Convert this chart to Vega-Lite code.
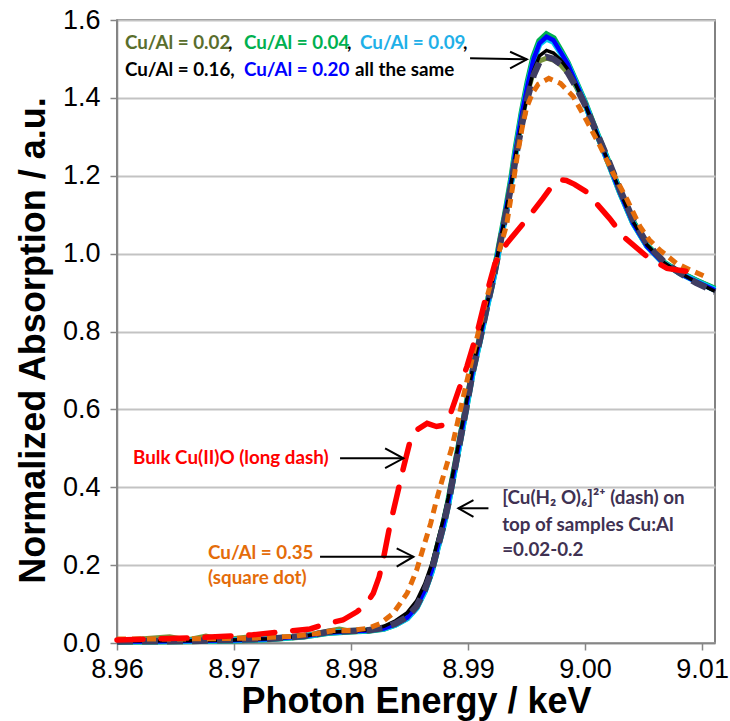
{
  "$schema": "https://vega.github.io/schema/vega-lite/v6.json",
  "width": 598,
  "height": 623,
  "autosize": {"type": "none"},
  "padding": {"left": 117, "top": 20, "right": 15, "bottom": 78},
  "background": "white",
  "config": {
    "view": {"stroke": "#595959", "strokeWidth": 1.5},
    "axis": {
      "domainColor": "#868686", "domainWidth": 1.5,
      "tickColor": "#868686", "tickSize": 7, "tickWidth": 1.5,
      "labelFont": "Liberation Sans", "labelFontSize": 27, "labelColor": "#000",
      "titleFont": "Liberation Sans", "titleFontSize": 36, "titleFontWeight": "bold", "titleColor": "#000"
    }
  },
  "datasets": {
    "curves": [
      {"s":"olive","x":8.960,"y":0.006},{"s":"olive","x":8.9645,"y":0.016},{"s":"olive","x":8.966,"y":0.008},{"s":"olive","x":8.9676,"y":0.018},{"s":"olive","x":8.969,"y":0.008},{"s":"olive","x":8.9725,"y":0.020},{"s":"olive","x":8.974,"y":0.012},{"s":"olive","x":8.976,"y":0.018},{"s":"olive","x":8.978,"y":0.030},{"s":"olive","x":8.979,"y":0.036},{"s":"olive","x":8.980,"y":0.030},{"s":"olive","x":8.9815,"y":0.033},{"s":"olive","x":8.9828,"y":0.040},{"s":"olive","x":8.9838,"y":0.052},{"s":"olive","x":8.9848,"y":0.070},{"s":"olive","x":8.9856,"y":0.098},{"s":"olive","x":8.9863,"y":0.140},{"s":"olive","x":8.9869,"y":0.190},{"s":"olive","x":8.9874,"y":0.250},{"s":"olive","x":8.9879,"y":0.308},{"s":"olive","x":8.9883,"y":0.362},{"s":"olive","x":8.9888,"y":0.442},{"s":"olive","x":8.9893,"y":0.522},{"s":"olive","x":8.9898,"y":0.602},{"s":"olive","x":8.9904,"y":0.700},{"s":"olive","x":8.9910,"y":0.780},{"s":"olive","x":8.9916,"y":0.865},{"s":"olive","x":8.9922,"y":0.945},{"s":"olive","x":8.9927,"y":1.025},{"s":"olive","x":8.9932,"y":1.105},{"s":"olive","x":8.9937,"y":1.185},{"s":"olive","x":8.9941,"y":1.262},{"s":"olive","x":8.9946,"y":1.345},{"s":"olive","x":8.9951,"y":1.415},{"s":"olive","x":8.9956,"y":1.468},{"s":"olive","x":8.9961,"y":1.495},{"s":"olive","x":8.9967,"y":1.502},{"s":"olive","x":8.9973,"y":1.497},{"s":"olive","x":8.9979,"y":1.485},{"s":"olive","x":8.9985,"y":1.465},{"s":"olive","x":8.9992,"y":1.430},{"s":"olive","x":9.0000,"y":1.382},{"s":"olive","x":9.0007,"y":1.330},{"s":"olive","x":9.0019,"y":1.245},{"s":"olive","x":9.0030,"y":1.162},{"s":"olive","x":9.0041,"y":1.085},{"s":"olive","x":9.0053,"y":1.022},{"s":"olive","x":9.0067,"y":0.978},{"s":"olive","x":9.0081,"y":0.952},{"s":"olive","x":9.0095,"y":0.932},{"s":"olive","x":9.0111,"y":0.910},

      {"s":"green","x":8.960,"y":0.004},{"s":"green","x":8.966,"y":0.005},{"s":"green","x":8.970,"y":0.007},{"s":"green","x":8.973,"y":0.010},{"s":"green","x":8.976,"y":0.017},{"s":"green","x":8.978,"y":0.026},{"s":"green","x":8.980,"y":0.030},{"s":"green","x":8.9815,"y":0.032},{"s":"green","x":8.9828,"y":0.037},{"s":"green","x":8.9838,"y":0.048},{"s":"green","x":8.9848,"y":0.065},{"s":"green","x":8.9856,"y":0.093},{"s":"green","x":8.9863,"y":0.136},{"s":"green","x":8.9869,"y":0.187},{"s":"green","x":8.9874,"y":0.247},{"s":"green","x":8.9879,"y":0.305},{"s":"green","x":8.9883,"y":0.360},{"s":"green","x":8.9888,"y":0.440},{"s":"green","x":8.9893,"y":0.520},{"s":"green","x":8.9898,"y":0.600},{"s":"green","x":8.9904,"y":0.700},{"s":"green","x":8.9910,"y":0.780},{"s":"green","x":8.9916,"y":0.865},{"s":"green","x":8.9922,"y":0.945},{"s":"green","x":8.9927,"y":1.025},{"s":"green","x":8.9932,"y":1.105},{"s":"green","x":8.9937,"y":1.192},{"s":"green","x":8.9941,"y":1.273},{"s":"green","x":8.9946,"y":1.363},{"s":"green","x":8.9951,"y":1.440},{"s":"green","x":8.9956,"y":1.505},{"s":"green","x":8.9961,"y":1.546},{"s":"green","x":8.9967,"y":1.563},{"s":"green","x":8.9973,"y":1.553},{"s":"green","x":8.9979,"y":1.522},{"s":"green","x":8.9985,"y":1.490},{"s":"green","x":8.9992,"y":1.442},{"s":"green","x":9.0000,"y":1.387},{"s":"green","x":9.0007,"y":1.332},{"s":"green","x":9.0019,"y":1.242},{"s":"green","x":9.0030,"y":1.157},{"s":"green","x":9.0041,"y":1.080},{"s":"green","x":9.0053,"y":1.020},{"s":"green","x":9.0067,"y":0.977},{"s":"green","x":9.0081,"y":0.951},{"s":"green","x":9.0095,"y":0.930},{"s":"green","x":9.0111,"y":0.909},

      {"s":"cyan","x":8.960,"y":0.004},{"s":"cyan","x":8.966,"y":0.005},{"s":"cyan","x":8.970,"y":0.007},{"s":"cyan","x":8.973,"y":0.010},{"s":"cyan","x":8.976,"y":0.017},{"s":"cyan","x":8.978,"y":0.026},{"s":"cyan","x":8.980,"y":0.030},{"s":"cyan","x":8.9815,"y":0.032},{"s":"cyan","x":8.9828,"y":0.037},{"s":"cyan","x":8.9838,"y":0.047},{"s":"cyan","x":8.9848,"y":0.063},{"s":"cyan","x":8.9856,"y":0.090},{"s":"cyan","x":8.9863,"y":0.132},{"s":"cyan","x":8.9869,"y":0.183},{"s":"cyan","x":8.9874,"y":0.243},{"s":"cyan","x":8.9879,"y":0.300},{"s":"cyan","x":8.9883,"y":0.355},{"s":"cyan","x":8.9888,"y":0.435},{"s":"cyan","x":8.9893,"y":0.515},{"s":"cyan","x":8.9898,"y":0.595},{"s":"cyan","x":8.9904,"y":0.695},{"s":"cyan","x":8.9910,"y":0.775},{"s":"cyan","x":8.9916,"y":0.860},{"s":"cyan","x":8.9922,"y":0.940},{"s":"cyan","x":8.9927,"y":1.020},{"s":"cyan","x":8.9932,"y":1.100},{"s":"cyan","x":8.9937,"y":1.186},{"s":"cyan","x":8.9941,"y":1.266},{"s":"cyan","x":8.9946,"y":1.357},{"s":"cyan","x":8.9951,"y":1.432},{"s":"cyan","x":8.9956,"y":1.497},{"s":"cyan","x":8.9961,"y":1.538},{"s":"cyan","x":8.9967,"y":1.552},{"s":"cyan","x":8.9973,"y":1.544},{"s":"cyan","x":8.9979,"y":1.516},{"s":"cyan","x":8.9985,"y":1.487},{"s":"cyan","x":8.9992,"y":1.440},{"s":"cyan","x":9.0000,"y":1.386},{"s":"cyan","x":9.0007,"y":1.331},{"s":"cyan","x":9.0019,"y":1.241},{"s":"cyan","x":9.0030,"y":1.156},{"s":"cyan","x":9.0041,"y":1.079},{"s":"cyan","x":9.0053,"y":1.019},{"s":"cyan","x":9.0067,"y":0.976},{"s":"cyan","x":9.0081,"y":0.950},{"s":"cyan","x":9.0095,"y":0.929},{"s":"cyan","x":9.0111,"y":0.907},

      {"s":"blue","x":8.960,"y":0.004},{"s":"blue","x":8.963,"y":0.004},{"s":"blue","x":8.966,"y":0.005},{"s":"blue","x":8.970,"y":0.007},{"s":"blue","x":8.973,"y":0.010},{"s":"blue","x":8.976,"y":0.017},{"s":"blue","x":8.978,"y":0.026},{"s":"blue","x":8.980,"y":0.030},{"s":"blue","x":8.9815,"y":0.032},{"s":"blue","x":8.9828,"y":0.037},{"s":"blue","x":8.9838,"y":0.048},{"s":"blue","x":8.9848,"y":0.065},{"s":"blue","x":8.9856,"y":0.093},{"s":"blue","x":8.9863,"y":0.136},{"s":"blue","x":8.9869,"y":0.187},{"s":"blue","x":8.9874,"y":0.247},{"s":"blue","x":8.9879,"y":0.305},{"s":"blue","x":8.9883,"y":0.360},{"s":"blue","x":8.9888,"y":0.440},{"s":"blue","x":8.9893,"y":0.520},{"s":"blue","x":8.9898,"y":0.600},{"s":"blue","x":8.9904,"y":0.700},{"s":"blue","x":8.9910,"y":0.780},{"s":"blue","x":8.9916,"y":0.865},{"s":"blue","x":8.9922,"y":0.945},{"s":"blue","x":8.9927,"y":1.025},{"s":"blue","x":8.9932,"y":1.105},{"s":"blue","x":8.9937,"y":1.190},{"s":"blue","x":8.9941,"y":1.270},{"s":"blue","x":8.9946,"y":1.360},{"s":"blue","x":8.9951,"y":1.435},{"s":"blue","x":8.9956,"y":1.500},{"s":"blue","x":8.9961,"y":1.540},{"s":"blue","x":8.9967,"y":1.557},{"s":"blue","x":8.9973,"y":1.548},{"s":"blue","x":8.9979,"y":1.518},{"s":"blue","x":8.9985,"y":1.488},{"s":"blue","x":8.9992,"y":1.440},{"s":"blue","x":9.0000,"y":1.385},{"s":"blue","x":9.0007,"y":1.330},{"s":"blue","x":9.0019,"y":1.240},{"s":"blue","x":9.0030,"y":1.155},{"s":"blue","x":9.0041,"y":1.078},{"s":"blue","x":9.0053,"y":1.018},{"s":"blue","x":9.0067,"y":0.975},{"s":"blue","x":9.0081,"y":0.949},{"s":"blue","x":9.0095,"y":0.928},{"s":"blue","x":9.0111,"y":0.906},

      {"s":"black","x":8.960,"y":0.005},{"s":"black","x":8.966,"y":0.006},{"s":"black","x":8.970,"y":0.008},{"s":"black","x":8.973,"y":0.011},{"s":"black","x":8.976,"y":0.018},{"s":"black","x":8.978,"y":0.027},{"s":"black","x":8.980,"y":0.031},{"s":"black","x":8.9815,"y":0.034},{"s":"black","x":8.9828,"y":0.043},{"s":"black","x":8.9838,"y":0.057},{"s":"black","x":8.9848,"y":0.078},{"s":"black","x":8.9856,"y":0.108},{"s":"black","x":8.9863,"y":0.152},{"s":"black","x":8.9869,"y":0.203},{"s":"black","x":8.9874,"y":0.262},{"s":"black","x":8.9879,"y":0.320},{"s":"black","x":8.9883,"y":0.373},{"s":"black","x":8.9888,"y":0.452},{"s":"black","x":8.9893,"y":0.530},{"s":"black","x":8.9898,"y":0.610},{"s":"black","x":8.9904,"y":0.707},{"s":"black","x":8.9910,"y":0.785},{"s":"black","x":8.9916,"y":0.868},{"s":"black","x":8.9922,"y":0.947},{"s":"black","x":8.9927,"y":1.025},{"s":"black","x":8.9932,"y":1.102},{"s":"black","x":8.9937,"y":1.183},{"s":"black","x":8.9941,"y":1.258},{"s":"black","x":8.9946,"y":1.340},{"s":"black","x":8.9951,"y":1.410},{"s":"black","x":8.9956,"y":1.470},{"s":"black","x":8.9961,"y":1.508},{"s":"black","x":8.9967,"y":1.522},{"s":"black","x":8.9973,"y":1.515},{"s":"black","x":8.9979,"y":1.498},{"s":"black","x":8.9985,"y":1.474},{"s":"black","x":8.9992,"y":1.434},{"s":"black","x":9.0000,"y":1.383},{"s":"black","x":9.0007,"y":1.330},{"s":"black","x":9.0019,"y":1.242},{"s":"black","x":9.0030,"y":1.158},{"s":"black","x":9.0041,"y":1.082},{"s":"black","x":9.0053,"y":1.022},{"s":"black","x":9.0067,"y":0.978},{"s":"black","x":9.0081,"y":0.950},{"s":"black","x":9.0095,"y":0.927},{"s":"black","x":9.0111,"y":0.903},

      {"s":"slate","x":8.960,"y":0.004},{"s":"slate","x":8.966,"y":0.005},{"s":"slate","x":8.970,"y":0.008},{"s":"slate","x":8.973,"y":0.011},{"s":"slate","x":8.976,"y":0.018},{"s":"slate","x":8.978,"y":0.028},{"s":"slate","x":8.980,"y":0.031},{"s":"slate","x":8.9815,"y":0.033},{"s":"slate","x":8.9828,"y":0.039},{"s":"slate","x":8.9838,"y":0.050},{"s":"slate","x":8.9848,"y":0.067},{"s":"slate","x":8.9856,"y":0.094},{"s":"slate","x":8.9863,"y":0.136},{"s":"slate","x":8.9869,"y":0.186},{"s":"slate","x":8.9874,"y":0.245},{"s":"slate","x":8.9879,"y":0.303},{"s":"slate","x":8.9883,"y":0.357},{"s":"slate","x":8.9888,"y":0.437},{"s":"slate","x":8.9893,"y":0.517},{"s":"slate","x":8.9898,"y":0.597},{"s":"slate","x":8.9904,"y":0.697},{"s":"slate","x":8.9910,"y":0.778},{"s":"slate","x":8.9916,"y":0.862},{"s":"slate","x":8.9922,"y":0.942},{"s":"slate","x":8.9927,"y":1.020},{"s":"slate","x":8.9932,"y":1.098},{"s":"slate","x":8.9937,"y":1.178},{"s":"slate","x":8.9941,"y":1.252},{"s":"slate","x":8.9946,"y":1.332},{"s":"slate","x":8.9951,"y":1.402},{"s":"slate","x":8.9956,"y":1.458},{"s":"slate","x":8.9961,"y":1.492},{"s":"slate","x":8.9967,"y":1.505},{"s":"slate","x":8.9973,"y":1.500},{"s":"slate","x":8.9979,"y":1.487},{"s":"slate","x":8.9985,"y":1.466},{"s":"slate","x":8.9992,"y":1.430},{"s":"slate","x":9.0000,"y":1.382},{"s":"slate","x":9.0007,"y":1.331},{"s":"slate","x":9.0019,"y":1.246},{"s":"slate","x":9.0030,"y":1.163},{"s":"slate","x":9.0041,"y":1.087},{"s":"slate","x":9.0053,"y":1.025},{"s":"slate","x":9.0067,"y":0.980},{"s":"slate","x":9.0081,"y":0.950},{"s":"slate","x":9.0095,"y":0.925},{"s":"slate","x":9.0111,"y":0.902},

      {"s":"orange","x":8.960,"y":0.010},{"s":"orange","x":8.964,"y":0.010},{"s":"orange","x":8.968,"y":0.011},{"s":"orange","x":8.972,"y":0.013},{"s":"orange","x":8.975,"y":0.017},{"s":"orange","x":8.977,"y":0.024},{"s":"orange","x":8.9785,"y":0.032},{"s":"orange","x":8.980,"y":0.032},{"s":"orange","x":8.9815,"y":0.038},{"s":"orange","x":8.9825,"y":0.050},{"s":"orange","x":8.9836,"y":0.076},{"s":"orange","x":8.9848,"y":0.128},{"s":"orange","x":8.9856,"y":0.187},{"s":"orange","x":8.9862,"y":0.247},{"s":"orange","x":8.9868,"y":0.307},{"s":"orange","x":8.9873,"y":0.367},{"s":"orange","x":8.9878,"y":0.420},{"s":"orange","x":8.9886,"y":0.500},{"s":"orange","x":8.9892,"y":0.580},{"s":"orange","x":8.9898,"y":0.660},{"s":"orange","x":8.9905,"y":0.750},{"s":"orange","x":8.9912,"y":0.840},{"s":"orange","x":8.9919,"y":0.920},{"s":"orange","x":8.9926,"y":1.000},{"s":"orange","x":8.9933,"y":1.075},{"s":"orange","x":8.9938,"y":1.170},{"s":"orange","x":8.9942,"y":1.250},{"s":"orange","x":8.9946,"y":1.320},{"s":"orange","x":8.9950,"y":1.375},{"s":"orange","x":8.9955,"y":1.412},{"s":"orange","x":8.9960,"y":1.435},{"s":"orange","x":8.9969,"y":1.450},{"s":"orange","x":8.9979,"y":1.437},{"s":"orange","x":8.9990,"y":1.403},{"s":"orange","x":9.0001,"y":1.343},{"s":"orange","x":9.0013,"y":1.275},{"s":"orange","x":9.0024,"y":1.206},{"s":"orange","x":9.0036,"y":1.138},{"s":"orange","x":9.0047,"y":1.069},{"s":"orange","x":9.0055,"y":1.035},{"s":"orange","x":9.0064,"y":1.009},{"s":"orange","x":9.0078,"y":0.975},{"s":"orange","x":9.0090,"y":0.958},{"s":"orange","x":9.0102,"y":0.942},

      {"s":"red","x":8.960,"y":0.008},{"s":"red","x":8.9665,"y":0.013},{"s":"red","x":8.9716,"y":0.021},{"s":"red","x":8.9742,"y":0.029},{"s":"red","x":8.9765,"y":0.036},{"s":"red","x":8.9779,"y":0.050},{"s":"red","x":8.9793,"y":0.059},{"s":"red","x":8.9805,"y":0.080},{"s":"red","x":8.9813,"y":0.100},{"s":"red","x":8.9819,"y":0.128},{"s":"red","x":8.9824,"y":0.170},{"s":"red","x":8.9828,"y":0.222},{"s":"red","x":8.9833,"y":0.299},{"s":"red","x":8.9839,"y":0.376},{"s":"red","x":8.9845,"y":0.453},{"s":"red","x":8.9850,"y":0.513},{"s":"red","x":8.9856,"y":0.547},{"s":"red","x":8.9865,"y":0.564},{"s":"red","x":8.9873,"y":0.556},{"s":"red","x":8.9880,"y":0.560},{"s":"red","x":8.9884,"y":0.580},{"s":"red","x":8.9889,"y":0.624},{"s":"red","x":8.9899,"y":0.710},{"s":"red","x":8.9908,"y":0.800},{"s":"red","x":8.9916,"y":0.898},{"s":"red","x":8.9923,"y":0.975},{"s":"red","x":8.9933,"y":1.026},{"s":"red","x":8.9953,"y":1.099},{"s":"red","x":8.9964,"y":1.142},{"s":"red","x":8.9972,"y":1.175},{"s":"red","x":8.9978,"y":1.190},{"s":"red","x":8.9984,"y":1.188},{"s":"red","x":8.9991,"y":1.178},{"s":"red","x":9.0001,"y":1.159},{"s":"red","x":9.0021,"y":1.090},{"s":"red","x":9.0033,"y":1.043},{"s":"red","x":9.0053,"y":0.992},{"s":"red","x":9.0070,"y":0.962},{"s":"red","x":9.0098,"y":0.949}
    ],
    "arrows": [
      {"a":"a1","i":1,"x":8.99017,"y":1.5016},{"a":"a1","i":2,"x":8.99502,"y":1.499},
      {"a":"a1h","i":1,"x":8.99359,"y":1.5185},{"a":"a1h","i":2,"x":8.99502,"y":1.499},{"a":"a1h","i":3,"x":8.99359,"y":1.476},
      {"a":"a2","i":1,"x":8.97906,"y":0.4743},{"a":"a2","i":2,"x":8.98447,"y":0.4743},
      {"a":"a2h","i":1,"x":8.98291,"y":0.500},{"a":"a2h","i":2,"x":8.98447,"y":0.4743},{"a":"a2h","i":3,"x":8.98291,"y":0.449},
      {"a":"a3","i":1,"x":8.97735,"y":0.2216},{"a":"a3","i":2,"x":8.98533,"y":0.2216},
      {"a":"a3h","i":1,"x":8.9839,"y":0.243},{"a":"a3h","i":2,"x":8.98533,"y":0.2216},{"a":"a3h","i":3,"x":8.9839,"y":0.196},
      {"a":"a4","i":1,"x":8.99174,"y":0.346},{"a":"a4","i":2,"x":8.98917,"y":0.346},
      {"a":"a4h","i":1,"x":8.99046,"y":0.367},{"a":"a4h","i":2,"x":8.98917,"y":0.346},{"a":"a4h","i":3,"x":8.99046,"y":0.324}
    ],
    "labels": [
      {"t":"Cu/Al = 0.02","g":"olive","x":8.96068,"y":1.5408},
      {"t":",","g":"black","x":8.96949,"y":1.5408},
      {"t":"Cu/Al = 0.04","g":"green","x":8.97085,"y":1.5408},
      {"t":",","g":"black","x":8.97966,"y":1.5408},
      {"t":"Cu/Al = 0.09","g":"cyan","x":8.98077,"y":1.5408},
      {"t":",","g":"black","x":8.98957,"y":1.5408},
      {"t":"Cu/Al = 0.16,","g":"black","x":8.96068,"y":1.4715},
      {"t":"Cu/Al = 0.20","g":"blue","x":8.97085,"y":1.4715},
      {"t":"all the same","g":"black","x":8.98034,"y":1.4715},
      {"t":"Bulk Cu(II)O (long dash)","g":"red","x":8.96137,"y":0.4751},
      {"t":"Cu/Al = 0.35","g":"orange","x":8.96778,"y":0.2311},
      {"t":"(square dot)","g":"orange","x":8.96778,"y":0.1669},
      {"t":"[Cu(H₂ O)₆]²⁺  (dash) on","g":"slate","x":8.99291,"y":0.3724},
      {"t":"top of samples Cu:Al","g":"slate","x":8.99291,"y":0.3030},
      {"t":"=0.02-0.2","g":"slate","x":8.99291,"y":0.2388}
    ]
  },
  "encoding": {
    "x": {"field": "x", "type": "quantitative",
      "scale": {"domain": [8.96, 9.0111], "nice": false, "zero": false},
      "axis": {"values": [8.96, 8.97, 8.98, 8.99, 9.0, 9.01], "format": ".2f", "grid": false, "labelPadding": 6, "labelFlush": false,
        "title": "Photon Energy / keV", "titleY": 69, "titleBaseline": "alphabetic"}},
    "y": {"field": "y", "type": "quantitative",
      "scale": {"domain": [0, 1.6], "nice": false},
      "axis": {"values": [0, 0.2, 0.4, 0.6, 0.8, 1.0, 1.2, 1.4, 1.6], "format": ".1f", "grid": true, "gridColor": "#c3c3c3", "gridWidth": 2, "labelPadding": 10, "labelFlush": false,
        "title": "Normalized Absorption / a.u.", "titleX": -73, "titleY": 320, "titleAlign": "center", "titleBaseline": "alphabetic", "titleAngle": -90}}
  },
  "layer": [
    {"data": {"name": "curves"}, "transform": [{"filter": "datum.s === 'olive'"}], "mark": {"type": "line", "color": "#77933c", "strokeWidth": 5}},
    {"data": {"name": "curves"}, "transform": [{"filter": "datum.s === 'green'"}], "mark": {"type": "line", "color": "#00b050", "strokeWidth": 6.5}},
    {"data": {"name": "curves"}, "transform": [{"filter": "datum.s === 'cyan'"}], "mark": {"type": "line", "color": "#00c8f0", "strokeWidth": 6}},
    {"data": {"name": "curves"}, "transform": [{"filter": "datum.s === 'blue'"}], "mark": {"type": "line", "color": "#0000ff", "strokeWidth": 4.5}},
    {"data": {"name": "curves"}, "transform": [{"filter": "datum.s === 'black'"}], "mark": {"type": "line", "color": "#000000", "strokeWidth": 3.5}},
    {"data": {"name": "curves"}, "transform": [{"filter": "datum.s === 'slate'"}], "mark": {"type": "line", "color": "#3f3d62", "strokeWidth": 6.5, "strokeDash": [16, 9]}},
    {"data": {"name": "curves"}, "transform": [{"filter": "datum.s === 'orange'"}], "mark": {"type": "line", "color": "#e46c0a", "strokeWidth": 5, "strokeDash": [9, 6]}},
    {"data": {"name": "curves"}, "transform": [{"filter": "datum.s === 'red'"}], "mark": {"type": "line", "color": "#ff0000", "strokeWidth": 5.5, "strokeDash": [26, 18], "strokeCap": "round"}},
    {"data": {"name": "arrows"}, "mark": {"type": "line", "color": "#000000", "strokeWidth": 2},
      "encoding": {"detail": {"field": "a"}, "order": {"field": "i", "type": "quantitative"}}},
    {"data": {"name": "labels"},
      "mark": {"type": "text", "align": "left", "baseline": "middle", "font": "Lato", "fontSize": 18.8, "fontWeight": "bold"},
      "encoding": {
        "text": {"field": "t"},
        "color": {"field": "g", "type": "nominal", "legend": null,
          "scale": {"domain": ["olive", "green", "cyan", "black", "blue", "red", "orange", "slate"],
                    "range": ["#5a6e2d", "#00b050", "#1fb0e8", "#000000", "#0000ff", "#ff0000", "#e46c0a", "#403152"]}}}}
  ]
}
